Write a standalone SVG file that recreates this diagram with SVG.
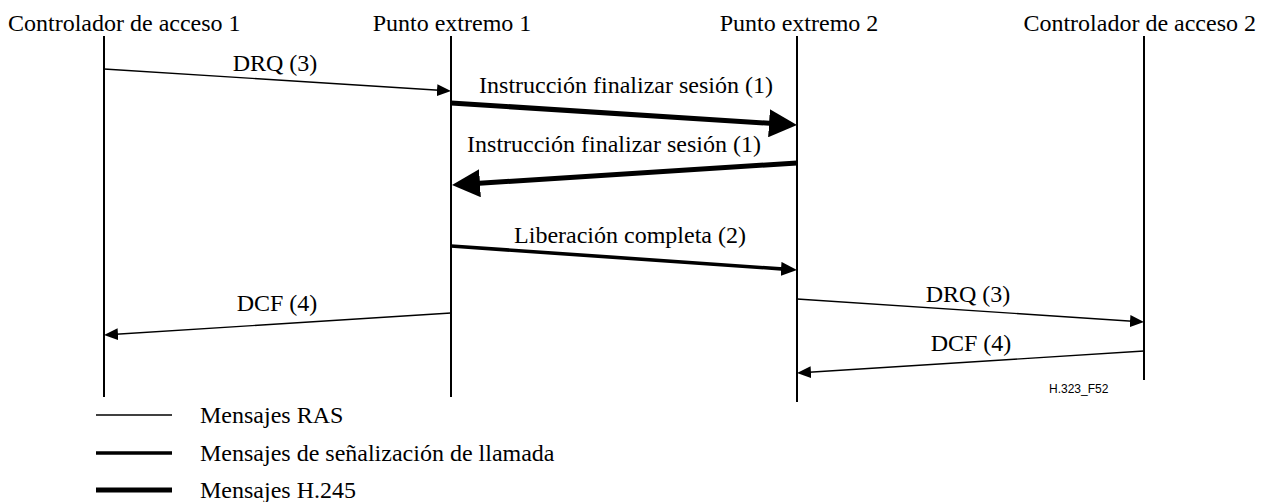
<svg xmlns="http://www.w3.org/2000/svg" width="1267" height="502" viewBox="0 0 1267 502">
<defs>
<marker id="aThin" markerUnits="userSpaceOnUse" markerWidth="14" markerHeight="12" refX="10" refY="6" orient="auto"><path d="M0,0 L14,6 L0,12 z" fill="#000"/></marker>
<marker id="aMid" markerUnits="userSpaceOnUse" markerWidth="16" markerHeight="14" refX="10" refY="7" orient="auto"><path d="M0,0 L16,7 L0,14 z" fill="#000"/></marker>
<marker id="aThick" markerUnits="userSpaceOnUse" markerWidth="28" markerHeight="28" refX="16" refY="14" orient="auto"><path d="M0,0 L28,14 L0,28 z" fill="#000"/></marker>
</defs>
<g id="gk1"><text x="8" y="31" font-family="Liberation Serif" font-size="24">Controlador de acceso 1</text><line x1="104" y1="36" x2="104" y2="397" stroke="#000" stroke-width="2"/></g>
<g id="ep1"><text x="452" y="31" font-family="Liberation Serif" font-size="24" text-anchor="middle">Punto extremo 1</text><line x1="451" y1="36" x2="451" y2="397" stroke="#000" stroke-width="2"/></g>
<g id="ep2"><text x="799" y="31" font-family="Liberation Serif" font-size="24" text-anchor="middle">Punto extremo 2</text><line x1="797" y1="36" x2="797" y2="402" stroke="#000" stroke-width="2"/></g>
<g id="gk2"><text x="1256" y="31" font-family="Liberation Serif" font-size="24" text-anchor="end">Controlador de acceso 2</text><line x1="1144" y1="36" x2="1144" y2="380" stroke="#000" stroke-width="2"/></g>
<g id="connectors" stroke="#000" fill="none">
<line x1="104" y1="69" x2="447" y2="90.75" stroke-width="1.3" marker-end="url(#aThin)"/>
<line x1="451" y1="103" x2="785" y2="124.24" stroke-width="5" marker-end="url(#aThick)"/>
<line x1="797" y1="163" x2="464" y2="184.24" stroke-width="5" marker-end="url(#aThick)"/>
<line x1="451" y1="246" x2="791" y2="269.58" stroke-width="3.6" marker-end="url(#aMid)"/>
<line x1="451" y1="313" x2="108" y2="334.75" stroke-width="1.3" marker-end="url(#aThin)"/>
<line x1="797" y1="299" x2="1140" y2="321.74" stroke-width="1.3" marker-end="url(#aThin)"/>
<line x1="1144" y1="351" x2="801" y2="372.75" stroke-width="1.3" marker-end="url(#aThin)"/>
</g>
<g id="labels">
<text x="275" y="71" font-family="Liberation Serif" font-size="24" text-anchor="middle">DRQ (3)</text>
<text x="626" y="93" font-family="Liberation Serif" font-size="24" text-anchor="middle">Instrucci&#243;n finalizar sesi&#243;n (1)</text>
<text x="614" y="152" font-family="Liberation Serif" font-size="24" text-anchor="middle">Instrucci&#243;n finalizar sesi&#243;n (1)</text>
<text x="630" y="243" font-family="Liberation Serif" font-size="24" text-anchor="middle">Liberaci&#243;n completa (2)</text>
<text x="277" y="311" font-family="Liberation Serif" font-size="24" text-anchor="middle">DCF (4)</text>
<text x="968" y="302" font-family="Liberation Serif" font-size="24" text-anchor="middle">DRQ (3)</text>
<text x="971" y="351" font-family="Liberation Serif" font-size="24" text-anchor="middle">DCF (4)</text>
<text x="1049" y="393" font-family="Liberation Sans" font-size="12">H.323_F52</text>
</g>
<g id="legend">
<line x1="96" y1="415" x2="172" y2="415" stroke="#000" stroke-width="1.3"/>
<text x="200" y="423" font-family="Liberation Serif" font-size="24">Mensajes RAS</text>
<line x1="96" y1="453" x2="172" y2="453" stroke="#000" stroke-width="3.6"/>
<text x="200" y="461" font-family="Liberation Serif" font-size="24">Mensajes de se&#241;alizaci&#243;n de llamada</text>
<line x1="96" y1="490" x2="172" y2="490" stroke="#000" stroke-width="5"/>
<text x="200" y="498" font-family="Liberation Serif" font-size="24">Mensajes H.245</text>
</g>
</svg>
